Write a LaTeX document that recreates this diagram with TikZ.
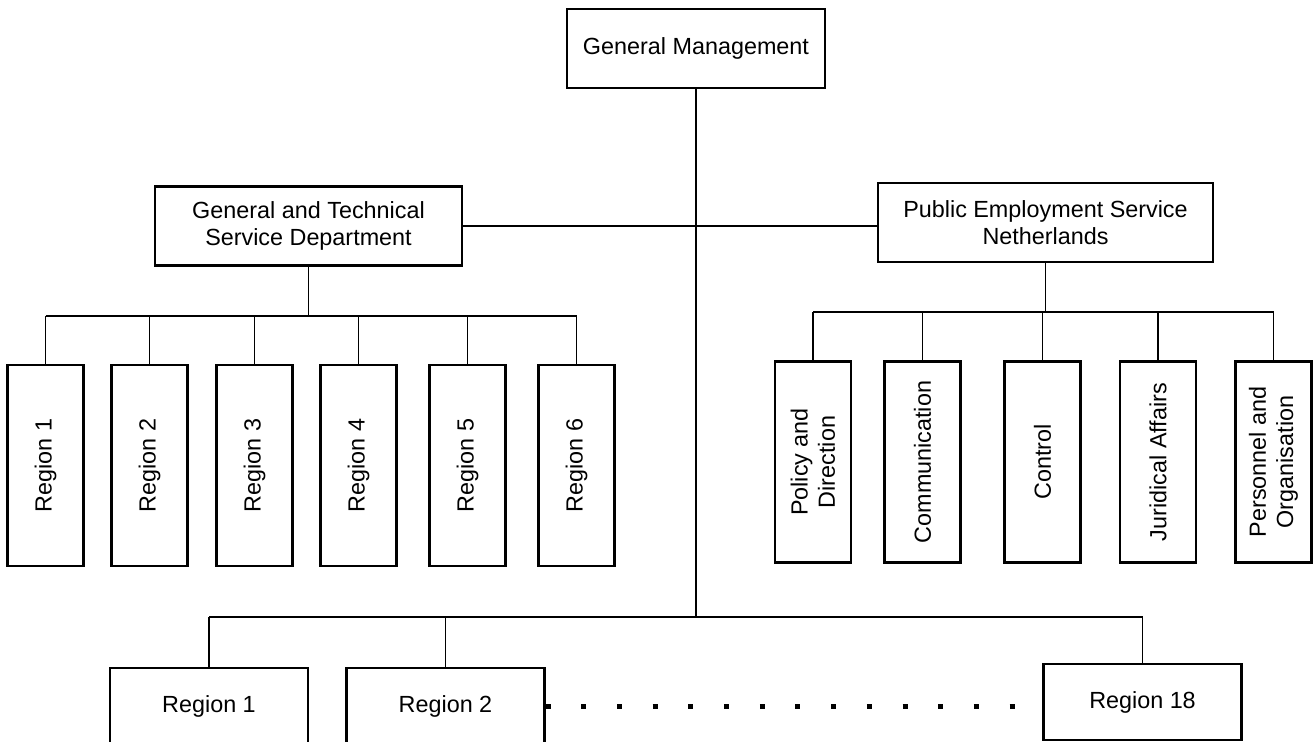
\documentclass[tikz,border=0pt]{standalone}
\usepackage{fontspec}
\setmainfont{Liberation Sans}

\begin{document}
\begin{tikzpicture}[x=0.02cm, y=-0.02cm, line width=1.1pt,
  unitbox/.style={draw, line width=1.3pt, inner sep=2pt, align=center,
    font=\fontsize{13.3}{15.5}\selectfont},
  headbox/.style={unitbox, minimum height=1.58cm},
  sidebox/.style={unitbox, rotate=90, minimum width=4.02cm, minimum height=1.52cm},
  basebox/.style={unitbox, minimum width=3.96cm, minimum height=1.52cm},
  dotrow/.style={line width=0.1cm, dash pattern=on 0.1cm off 0.614cm}]

% Frame
\useasboundingbox (0,0) rectangle (1314,742);
\clip (0,0) rectangle (1314,742);

% Bar levels
\coordinate (leftbar) at (0,316);
\coordinate (rightbar) at (0,312);
\coordinate (lowbar) at (0,617);

% ========== Top ==========
\node[headbox, minimum width=5.16cm] (gm) at (696,48.5) {General Management};
\node[headbox, minimum width=6.14cm] (gtsd) at (308.5,226) {General and Technical\\Service Department};
\node[headbox, minimum width=6.7cm] (pes) at (1045.5,222.5) {Public Employment Service\\Netherlands};

\draw (gtsd.east) -- (gtsd.east -| pes.west);
\draw (gm.south) -- (gm.south |- lowbar);

% ========== Left: regions ==========
\foreach \x [count=\i] in {45.5,149.5,254.5,358.5,467.5,576.5}
  \node[sidebox] (lr\i) at (\x,465.5) {Region \i};

\draw (gtsd.south) -- (gtsd.south |- leftbar);
\draw (lr1.east |- leftbar) -- (lr6.east |- leftbar);
\foreach \i in {1,...,6}
  \draw (lr\i.east) -- (lr\i.east |- leftbar);

% ========== Right: departments ==========
\node[sidebox] (pd) at (813,462) {Policy and\\Direction};
\node[sidebox] (com) at (922.5,462) {Communication};
\node[sidebox] (ctl) at (1042.5,462) {Control};
\node[sidebox] (jur) at (1158,462) {Juridical Affairs};
\node[sidebox] (po) at (1273.5,462) {Personnel and\\Organisation};

\draw (pes.south) -- (pes.south |- rightbar);
\draw (pd.east |- rightbar) -- (po.east |- rightbar);
\foreach \n in {pd,com,ctl,jur,po}
  \draw (\n.east) -- (\n.east |- rightbar);

% ========== Bottom: regions ==========
\node[basebox] (br1) at (209,706) {Region 1};
\node[basebox] (br2) at (445.5,706) {Region 2};
\node[basebox] (br18) at (1142.5,702) {Region 18};

\draw (br1.north |- lowbar) -- (br18.north |- lowbar);
\foreach \b in {br1,br2,br18}
  \draw (\b.north) -- (\b.north |- lowbar);
\draw[dotrow] (br2.east) -- (br2.east -| br18.west);

\end{tikzpicture}
\end{document}
